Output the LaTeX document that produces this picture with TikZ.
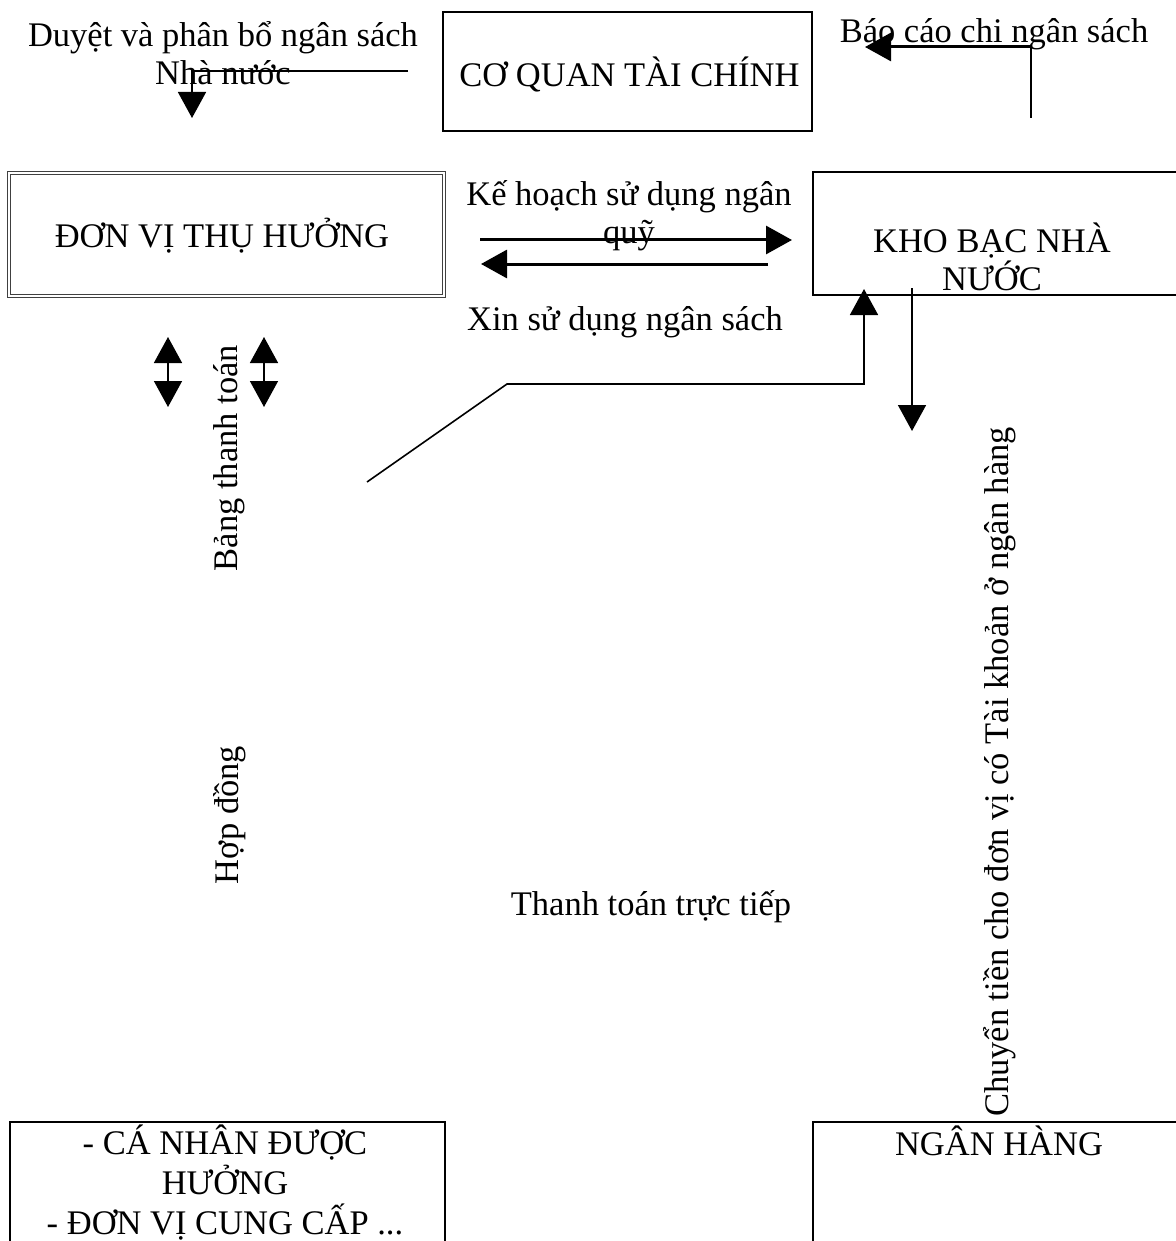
\documentclass[tikz,border=0pt]{standalone}
\usepackage{fontspec}
\setmainfont{Liberation Serif}
\usetikzlibrary{arrows.meta}
\begin{document}
\begin{tikzpicture}[x=0.5pt,y=-0.5pt,
  txt/.style={inner sep=0pt,font=\fontsize{17.25}{19}\selectfont,align=center},
  box/.style={draw,line width=1pt,inner sep=0pt},
  conn/.style={line width=0.8pt},
  thick conn/.style={line width=1.5pt},
  tip/.style={-{Triangle[length=13pt,width=14pt]}},
  both tips/.style={{Triangle[length=13pt,width=14pt]}-{Triangle[length=13pt,width=14pt]}}]
\path[use as bounding box] (0,0) rectangle (1176,1241);
\clip (0,0) rectangle (1176,1241);
% boxes
\node[box,minimum width=184.5pt,minimum height=59.5pt] (tc) at (627.5,71.5) {};
\node[txt] (tct) at (629.5,74) {CƠ QUAN TÀI CHÍNH};
\node[draw=black!75,double,double distance=1.2pt,line width=0.6pt,inner sep=0pt,
  minimum width=217.5pt,minimum height=61.5pt] (dv) at (226.5,234.5) {};
\node[txt] (dvt) at (222,236) {ĐƠN VỊ THỤ HƯỞNG};
\node[box,minimum width=183.5pt,minimum height=61.5pt] (kb) at (996.5,233.5) {};
\node[txt] (kbt) at (992,257) {KHO BẠC NHÀ\\NƯỚC};
\node[box,minimum width=217.5pt,minimum height=70pt] (cn) at (227.5,1192) {};
\node[txt,font=\fontsize{17.25}{20}\selectfont] (cnt) at (225,1183) {- CÁ NHÂN ĐƯỢC\\HƯỞNG\\- ĐƠN VỊ CUNG CẤP ...};
\node[box,minimum width=183.5pt,minimum height=70pt] (nh) at (996.5,1192) {};
\node[txt,anchor=base] (nht) at (999,1155) {NGÂN HÀNG};
% labels
\node[txt] (l1) at (223,53) {Duyệt và phân bổ ngân sách\\Nhà nước};
\node[txt] (l2) at (994,34) {Báo cáo chi ngân sách};
\node[txt] (l3) at (629,216) {Kế hoạch sử dụng ngân\\quỹ};
\node[txt] (l4) at (625,322) {Xin sử dụng ngân sách};
\node[txt,rotate=90] (l5) at (229,458) {Bảng thanh toán};
\node[txt,rotate=90] (l6) at (230,815) {Hợp đồng};
\node[txt] (l7) at (651,907) {Thanh toán trực tiếp};
\node[txt,rotate=90] (l8) at (1000,772) {Chuyển tiền cho đơn vị có Tài khoản ở ngân hàng};
% connector points
\coordinate (a1s) at (408,71);
\coordinate (a1m) at (192,71);
\coordinate (a1e) at (192,118);
\coordinate (a2s) at (1031,118);
\coordinate (a2m) at (1031,47);
\coordinate (a2e) at (865,47);
\coordinate (a3s) at (480,240);
\coordinate (a3e) at (792,240);
\coordinate (a4s) at (768,264);
\coordinate (a4e) at (481,264);
\coordinate (a5s) at (367,482);
\coordinate (a5m) at (507,384);
\coordinate (a5n) at (864,384);
\coordinate (a5e) at (864,289);
\coordinate (a6s) at (912,288);
\coordinate (a6e) at (912,431);
\coordinate (b1s) at (168,337);
\coordinate (b1e) at (168,407);
\coordinate (b2s) at (264,337);
\coordinate (b2e) at (264,407);
% connectors
\draw[conn,tip] (a1s) -- (a1m) -- (a1e);
\draw[conn] (a2s) -- (a2m);
\draw[thick conn,tip] (a2m) -- (a2e);
\draw[thick conn,tip] (a3s) -- (a3e);
\draw[thick conn,tip] (a4s) -- (a4e);
\draw[conn,tip] (a5s) -- (a5m) -- (a5n) -- (a5e);
\draw[conn,tip] (a6s) -- (a6e);
\draw[conn,both tips] (b1s) -- (b1e);
\draw[conn,both tips] (b2s) -- (b2e);
\end{tikzpicture}
\end{document}
